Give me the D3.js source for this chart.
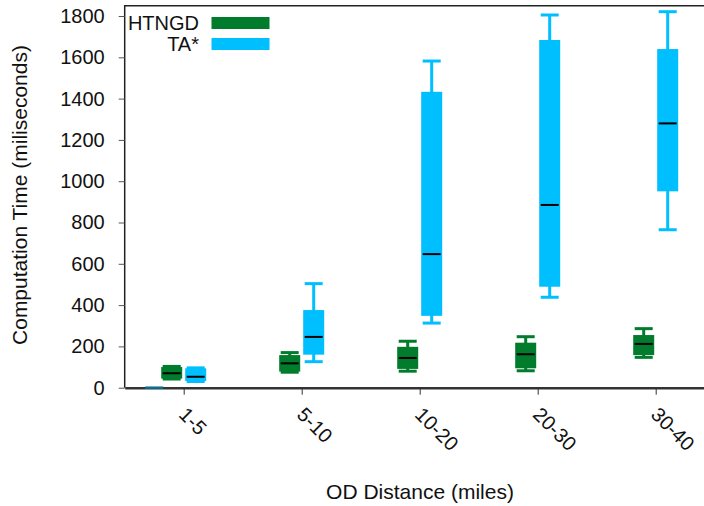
<!DOCTYPE html>
<html>
<head>
<meta charset="utf-8">
<script src="https://cdn.jsdelivr.net/npm/d3@7"></script>
<style>
  html, body { margin: 0; padding: 0; background: #fff; }
  svg { display: block; font-family: "Liberation Sans", Arial, Helvetica, sans-serif; }
</style>
</head>
<body>
<svg id="chart" width="704" height="506"></svg>
<script>
// ---- Data ------------------------------------------------------------------
// each box: [min, q1, median, q3, max]
var categories = ['1-5', '5-10', '10-20', '20-30', '30-40'];
var htngdBoxes = [
  [42, 44, 70, 100, 103],
  [75, 78, 118, 158, 170],
  [80, 91, 144, 198, 225],
  [82, 94, 162, 218, 247],
  [147, 158, 212, 255, 286]
];
var taBoxes = [
  [30, 32, 53, 94, 96],
  [126, 160, 246, 376, 504],
  [313, 348, 647, 1433, 1582],
  [438, 489, 885, 1684, 1805],
  [765, 951, 1280, 1640, 1821]
];
var yTicks = [0, 200, 400, 600, 800, 1000, 1200, 1400, 1600, 1800];
// stray zero-height mark sitting on the axis left of the first group
var strayMarks = [{ pos: -0.25, value: 0 }];

var series = [
  { name: 'HTNGD', color: '#007c2c', boxes: htngdBoxes, offset: -12 },
  { name: 'TA*',   color: '#00bfff', boxes: taBoxes,    offset: 12 }
];

// ---- Layout ----------------------------------------------------------------
var svg = d3.select('#chart');
var plotLeft = 124.7, plotTop = 5.7, plotBottom = 387.7, plotRight = 714.7;
var boxW = 21, capW = 18, fontSize = 20, titleSize = 21;

var x = d3.scaleLinear().domain([-0.5, 4.5]).range([plotLeft, plotRight]);
var y = d3.scaleLinear().domain([0, 1850]).range([plotBottom, plotTop]);

// frame (top + left); right side falls outside the picture
svg.append('path')
  .attr('d', 'M' + plotLeft + ',' + plotBottom + 'V' + plotTop + 'H' + plotRight)
  .attr('fill', 'none').attr('stroke', '#222').attr('stroke-width', 1.5);

// y axis
var yAxis = d3.axisLeft(y).tickValues(yTicks).tickFormat(d3.format('d'))
  .tickSize(6).tickPadding(14).tickSizeOuter(0);
var gy = svg.append('g').attr('transform', 'translate(' + plotLeft + ',0)').call(yAxis);
gy.select('.domain').remove();
gy.selectAll('line').attr('stroke', '#555');
gy.selectAll('text').attr('font-size', fontSize).attr('fill', '#111')
  .attr('font-family', '"Liberation Sans", Arial, sans-serif');

// x axis
var xAxis = d3.axisBottom(x).tickValues(d3.range(categories.length))
  .tickFormat(function(i) { return categories[i]; }).tickSize(7).tickSizeOuter(0);
var gx = svg.append('g').attr('transform', 'translate(0,' + plotBottom + ')').call(xAxis);
gx.select('.domain').attr('stroke', '#333').attr('stroke-width', 2.5);
gx.selectAll('line').attr('stroke', '#333');
gx.selectAll('text')
  .attr('font-size', fontSize).attr('fill', '#111')
  .attr('font-family', '"Liberation Sans", Arial, sans-serif')
  .attr('text-anchor', 'start')
  .attr('dy', null).attr('y', null)
  .attr('transform', 'translate(0,26) rotate(45)')
  .attr('dx', '-0.15em').attr('dy', '0.3em');

// ---- Boxes -----------------------------------------------------------------
series.forEach(function(s) {
  var g = svg.append('g').attr('class', 'series');
  s.boxes.forEach(function(b, i) {
    var cx = x(i) + s.offset;
    // whisker
    g.append('line')
      .attr('x1', cx).attr('x2', cx).attr('y1', y(b[4])).attr('y2', y(b[0]))
      .attr('stroke', s.color).attr('stroke-width', 3);
    // caps
    [b[0], b[4]].forEach(function(v) {
      g.append('line')
        .attr('x1', cx - capW / 2).attr('x2', cx + capW / 2)
        .attr('y1', y(v)).attr('y2', y(v))
        .attr('stroke', s.color).attr('stroke-width', 3);
    });
    // box
    g.append('rect')
      .attr('x', cx - boxW / 2).attr('width', boxW)
      .attr('y', y(b[3])).attr('height', y(b[1]) - y(b[3]))
      .attr('fill', s.color);
    // median
    g.append('line')
      .attr('x1', cx - capW / 2).attr('x2', cx + capW / 2)
      .attr('y1', y(b[2])).attr('y2', y(b[2]))
      .attr('stroke', '#000').attr('stroke-width', 2);
  });
});

strayMarks.forEach(function(m) {
  var cx = x(m.pos);
  svg.append('line')
    .attr('x1', cx - capW / 2).attr('x2', cx + capW / 2)
    .attr('y1', y(m.value)).attr('y2', y(m.value))
    .attr('stroke', '#0b6d8e').attr('stroke-width', 2.5);
});

// ---- Legend ----------------------------------------------------------------
series.forEach(function(s, i) {
  var ly = 23 + i * 21;
  svg.append('text')
    .attr('x', 199).attr('y', ly + 7)
    .attr('text-anchor', 'end').attr('font-size', fontSize).attr('fill', '#111')
    .text(s.name);
  svg.append('rect')
    .attr('x', 211.5).attr('y', ly - 6).attr('width', 58).attr('height', 12)
    .attr('fill', s.color);
});

// ---- Axis titles -----------------------------------------------------------
svg.append('text')
  .attr('transform', 'translate(27,195) rotate(-90)')
  .attr('text-anchor', 'middle').attr('font-size', titleSize).attr('fill', '#111')
  .text('Computation Time (miliseconds)');
svg.append('text')
  .attr('x', 420).attr('y', 499)
  .attr('text-anchor', 'middle').attr('font-size', titleSize).attr('fill', '#111')
  .text('OD Distance (miles)');
</script>
</body>
</html>
